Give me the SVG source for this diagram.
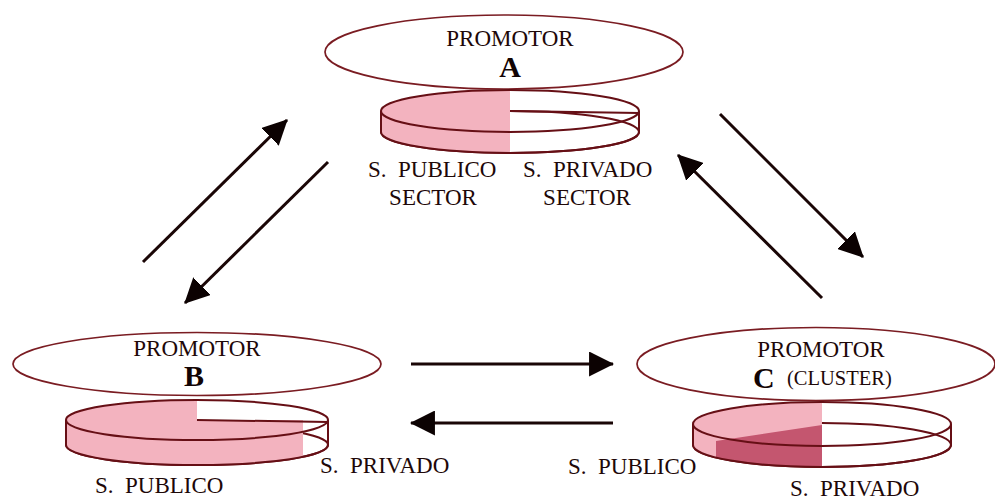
<svg xmlns="http://www.w3.org/2000/svg" width="995" height="500" viewBox="0 0 995 500">
  <defs>
    <style>
      .oval { fill: none; stroke: #7a1c22; stroke-width: 1.7; }
      .edge { fill: none; stroke: #660f15; stroke-width: 2; }
      .pink { fill: #f3b3bf; }
      .dark { fill: #c4566f; }
      .lbl { font-family: "Liberation Serif", "Times New Roman", serif; font-size: 23px; fill: #1e0808; }
      .big { font-family: "Liberation Serif", "Times New Roman", serif; font-size: 30px; font-weight: bold; fill: #120404; }
      .small { font-family: "Liberation Serif", "Times New Roman", serif; font-size: 20.5px; fill: #1e0808; }
      .flow { fill: none; stroke: #1a0606; stroke-width: 3; marker-end: url(#head); }
    </style>
    <marker id="head" viewBox="0 0 24 24" refX="23" refY="12" markerWidth="25" markerHeight="25" markerUnits="userSpaceOnUse" orient="auto">
      <path d="M0,0 L24,12 L0,24 z" fill="#0c0202"/>
    </marker>
    <!-- cylinder silhouettes used to clip the sector fills -->
    <clipPath id="discA">
      <ellipse cx="510" cy="111" rx="129" ry="21"/>
      <rect x="381" y="111" width="258" height="21"/>
      <ellipse cx="510" cy="132" rx="129" ry="21"/>
    </clipPath>
    <clipPath id="discB">
      <ellipse cx="197" cy="420" rx="131" ry="20"/>
      <rect x="66" y="420" width="262" height="25"/>
      <ellipse cx="197" cy="445" rx="131" ry="20"/>
    </clipPath>
    <clipPath id="discC">
      <ellipse cx="822" cy="424" rx="129" ry="22"/>
      <rect x="693" y="424" width="258" height="21"/>
      <ellipse cx="822" cy="445" rx="129" ry="22"/>
    </clipPath>
  </defs>

  <rect width="995" height="500" fill="#ffffff"/>

  <!-- Promotor A -->
  <g id="nodeA">
    <ellipse class="oval" cx="504" cy="52" rx="179" ry="37"/>
    <text class="lbl" x="510" y="46" text-anchor="middle">PROMOTOR</text>
    <text class="big" x="510" y="77" text-anchor="middle">A</text>
    <ellipse class="edge" cx="510" cy="132" rx="129" ry="21"/>
    <rect class="pink" x="375" y="85" width="135" height="75" clip-path="url(#discA)"/>
    <ellipse class="edge" cx="510" cy="111" rx="129" ry="21"/>
    <path class="edge" d="M381,111 V132 M639,111 V132 M381,132 A129,21 0 0 0 639,132 M510,111 L639,113"/>
    <text class="lbl" x="368" y="177" xml:space="preserve">S.  PUBLICO</text>
    <text class="lbl" x="433" y="205" text-anchor="middle">SECTOR</text>
    <text class="lbl" x="523" y="177" xml:space="preserve">S.  PRIVADO</text>
    <text class="lbl" x="587" y="205" text-anchor="middle">SECTOR</text>
  </g>

  <!-- Promotor B -->
  <g id="nodeB">
    <ellipse class="oval" cx="197" cy="364" rx="184" ry="31.5"/>
    <text class="lbl" x="197" y="356" text-anchor="middle">PROMOTOR</text>
    <text class="big" x="194" y="386" text-anchor="middle">B</text>
    <ellipse class="edge" cx="197" cy="445" rx="131" ry="20"/>
    <path class="pink" d="M60,395 H197 V420 H303 V472 H60 Z" clip-path="url(#discB)"/>
    <ellipse class="edge" cx="197" cy="420" rx="131" ry="20"/>
    <path class="edge" d="M66,420 V445 M328,420 V445 M66,445 A131,20 0 0 0 328,445 M197,420 L328,422"/>
    <text class="lbl" x="320" y="473" xml:space="preserve">S.  PRIVADO</text>
    <text class="lbl" x="95" y="493" xml:space="preserve">S.  PUBLICO</text>
  </g>

  <!-- Promotor C (cluster) -->
  <g id="nodeC">
    <ellipse class="oval" cx="816" cy="364" rx="179" ry="36.5"/>
    <text class="lbl" x="821" y="357" text-anchor="middle">PROMOTOR</text>
    <text class="big" x="753" y="388">C</text>
    <text class="small" x="787" y="385">(CLUSTER)</text>
    <ellipse class="edge" cx="822" cy="445" rx="129" ry="22"/>
    <rect class="pink" x="688" y="398" width="134" height="75" clip-path="url(#discC)"/>
    <path class="dark" d="M716,441 L822,425 V473 H716 Z" clip-path="url(#discC)"/>
    <ellipse class="edge" cx="822" cy="424" rx="129" ry="22"/>
    <path class="edge" d="M693,424 V445 M951,424 V445 M693,445 A129,22 0 0 0 951,445"/>
    <text class="lbl" x="568" y="474" xml:space="preserve">S.  PUBLICO</text>
    <text class="lbl" x="790" y="496" xml:space="preserve">S.  PRIVADO</text>
  </g>

  <!-- flows between promoters -->
  <g id="connectors">
    <line class="flow" x1="143" y1="262" x2="287" y2="120"/>
    <line class="flow" x1="328" y1="162" x2="185" y2="303"/>
    <line class="flow" x1="720" y1="114" x2="863" y2="257"/>
    <line class="flow" x1="822" y1="298" x2="678" y2="155"/>
    <line class="flow" x1="411" y1="364" x2="613" y2="364"/>
    <line class="flow" x1="613" y1="423" x2="411" y2="423"/>
  </g>
</svg>
